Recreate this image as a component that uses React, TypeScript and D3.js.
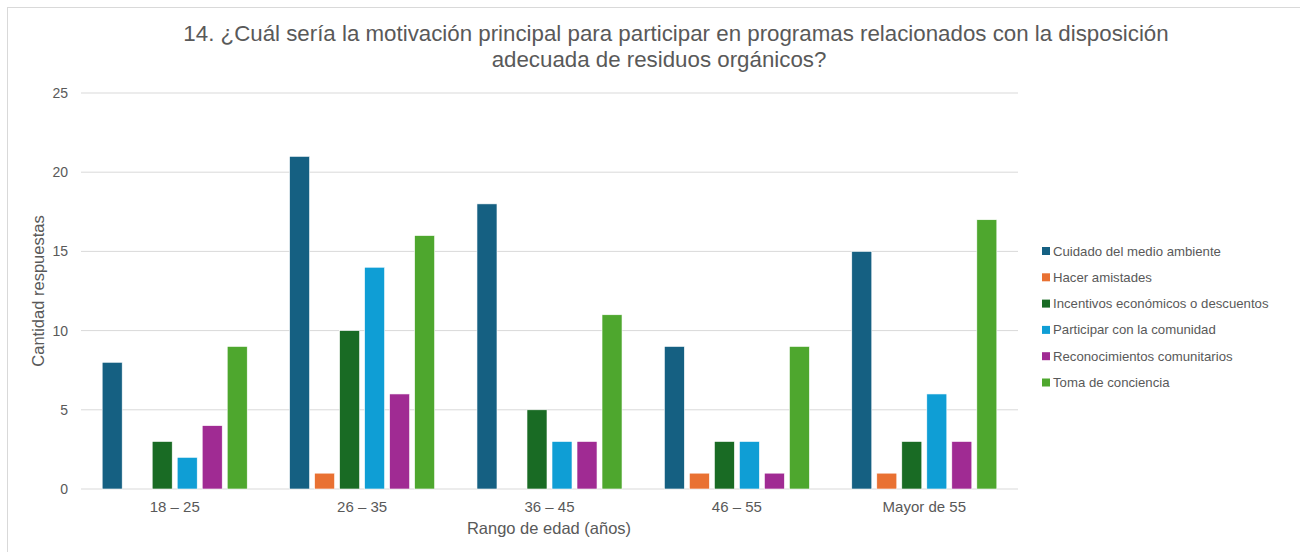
import React from "react";
import * as d3 from "d3";

const categories = ["18 – 25", "26 – 35", "36 – 45", "46 – 55", "Mayor de 55"];
const seriesNames = [
  "Cuidado del medio ambiente",
  "Hacer amistades",
  "Incentivos económicos o descuentos",
  "Participar con la comunidad",
  "Reconocimientos comunitarios",
  "Toma de conciencia",
];
const cuidado = [8, 21, 18, 9, 15];
const amistades = [0, 1, 0, 1, 1];
const incentivos = [3, 10, 5, 3, 3];
const participar = [2, 14, 3, 3, 6];
const reconocimientos = [4, 6, 3, 1, 3];
const toma = [9, 16, 11, 9, 17];
const yTicks = [0, 5, 10, 15, 20, 25];
const colors = ["#156082", "#E97132", "#196B24", "#0F9ED5", "#A02B93", "#4EA72E"];

const seriesValues = [cuidado, amistades, incentivos, participar, reconocimientos, toma];

const W = 1300;
const H = 552;
const left = 81;
const right = 1018;
const top = 93;
const bottom = 489;
const font = "'Liberation Sans', Arial, sans-serif";
const textColor = "#595959";

export default function App() {
  const x0 = d3.scaleBand<string>().domain(categories).range([left, right]).padding(0);
  const bw = x0.bandwidth();
  const x1 = d3
    .scaleBand<string>()
    .domain(seriesNames)
    .range([bw * 0.113, bw * 0.887])
    .paddingInner(0.2)
    .paddingOuter(0);
  const y = d3.scaleLinear().domain([0, 25]).range([bottom, top]);

  return (
    <svg
      width={W}
      height={H}
      style={{ position: "absolute", left: 0, top: 0, background: "#fff" }}
      fontFamily={font}
    >
      <rect x={7.5} y={7.5} width={W + 10} height={H + 10} fill="#fff" stroke="#d9d9d9" strokeWidth={1} />
      <text x={676} y={41} textAnchor="middle" fontSize={22.3} fill={textColor}>
        14. ¿Cuál sería la motivación principal para participar en programas relacionados con la disposición
      </text>
      <text x={659} y={67} textAnchor="middle" fontSize={22.3} fill={textColor}>
        adecuada de residuos orgánicos?
      </text>
      {yTicks.map((t) => (
        <g key={t}>
          <line x1={left} x2={right} y1={y(t)} y2={y(t)} stroke="#d9d9d9" strokeWidth={1} />
          <text x={68} y={y(t) + 5} textAnchor="end" fontSize={14} fill={textColor}>
            {t}
          </text>
        </g>
      ))}
      {categories.map((c, ci) => (
        <g key={c} transform={`translate(${x0(c)},0)`}>
          {seriesNames.map((s, si) => {
            const v = seriesValues[si][ci];
            if (!v) return null;
            return (
              <rect
                key={s}
                x={x1(s)}
                y={y(v)}
                width={x1.bandwidth()}
                height={y(0) - y(v)}
                fill={colors[si]}
                stroke="#ffffff"
                strokeWidth={0.6}
              />
            );
          })}
          <text x={bw / 2} y={512} textAnchor="middle" fontSize={15} fill={textColor}>
            {c}
          </text>
        </g>
      ))}
      <text x={549} y={534} textAnchor="middle" fontSize={16.5} fill={textColor}>
        Rango de edad (años)
      </text>
      <text
        transform={`translate(44,${(top + bottom) / 2}) rotate(-90)`}
        textAnchor="middle"
        fontSize={16.5}
        fill={textColor}
      >
        Cantidad respuestas
      </text>
      {seriesNames.map((s, i) => {
        const ly = 251 + i * 26.3;
        return (
          <g key={s}>
            <rect x={1042} y={ly - 4} width={8} height={8} fill={colors[i]} />
            <text x={1053} y={ly + 4.5} fontSize={13.2} fill={textColor}>
              {s}
            </text>
          </g>
        );
      })}
    </svg>
  );
}
